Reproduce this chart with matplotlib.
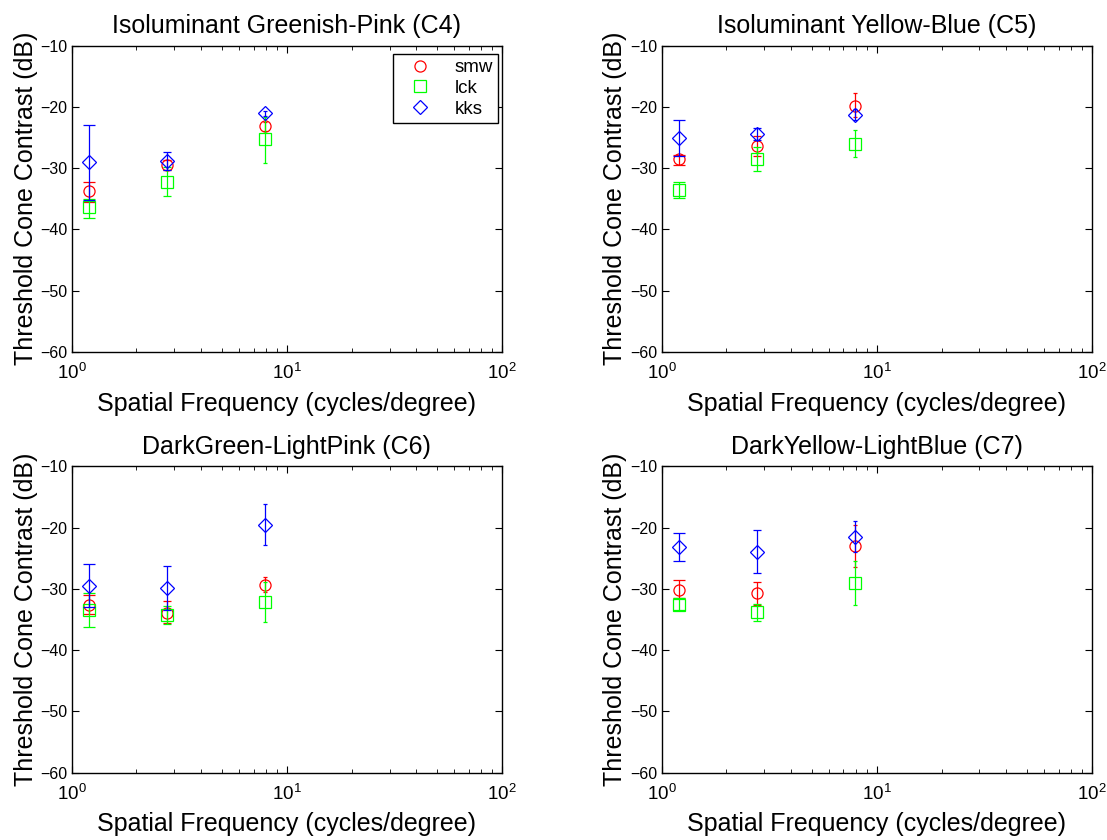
import numpy as np
import matplotlib
matplotlib.use("Agg")
import matplotlib.pyplot as plt

plt.rcParams['font.family'] = ['Liberation Sans', 'DejaVu Sans']
plt.rcParams['mathtext.default'] = 'regular'

freqs = [1.2, 2.78, 7.95]
subjects = ["smw", "lck", "kks"]
titles = ["Isoluminant Greenish-Pink (C4)", "Isoluminant Yellow-Blue (C5)",
          "DarkGreen-LightPink (C6)", "DarkYellow-LightBlue (C7)"]

# threshold (dB), upper and lower error bar ends, per panel per subject
c4_mean = {"smw": [-33.7, -29.5, -23.2], "lck": [-36.4, -32.3, -25.2], "kks": [-29.0, -28.9, -21.0]}
c4_top = {"smw": [-32.3, -28.7, -22.5], "lck": [-35.0, -29.8, -21.6], "kks": [-23.0, -27.3, -20.6]}
c4_bot = {"smw": [-35.5, -30.3, -23.9], "lck": [-38.2, -34.6, -29.1], "kks": [-35.2, -30.3, -21.5]}

c5_mean = {"smw": [-28.5, -26.4, -19.8], "lck": [-33.6, -28.5, -26.0], "kks": [-25.1, -24.4, -21.3]}
c5_top = {"smw": [-27.8, -24.8, -17.7], "lck": [-32.3, -26.6, -23.8], "kks": [-22.1, -23.5, -20.4]}
c5_bot = {"smw": [-29.5, -28.0, -21.6], "lck": [-34.9, -30.5, -28.2], "kks": [-28.0, -25.4, -22.1]}

c6_mean = {"smw": [-32.6, -33.9, -29.3], "lck": [-33.4, -34.3, -32.1], "kks": [-29.6, -29.9, -19.6]}
c6_top = {"smw": [-31.0, -32.0, -28.0], "lck": [-30.7, -32.8, -28.8], "kks": [-25.9, -26.3, -16.1]}
c6_bot = {"smw": [-34.1, -35.5, -30.5], "lck": [-36.2, -35.7, -35.4], "kks": [-32.9, -33.5, -22.8]}

c7_mean = {"smw": [-30.1, -30.7, -23.0], "lck": [-32.6, -33.8, -29.1], "kks": [-23.2, -24.0, -21.6]}
c7_top = {"smw": [-28.6, -28.8, -19.5], "lck": [-31.5, -32.4, -25.5], "kks": [-20.8, -20.4, -18.9]}
c7_bot = {"smw": [-31.5, -32.6, -26.4], "lck": [-33.4, -35.3, -32.7], "kks": [-25.4, -27.4, -24.0]}

panels = [(c4_mean, c4_top, c4_bot), (c5_mean, c5_top, c5_bot),
          (c6_mean, c6_top, c6_bot), (c7_mean, c7_top, c7_bot)]

styles = {"smw": dict(marker="o", color="#ff0000", ms=8),
          "lck": dict(marker="s", color="#00ff00", ms=8),
          "kks": dict(marker="D", color="#0000ff", ms=7)}
capsizes = [4.6, 2.9, 1.3]

fig = plt.figure(figsize=(11.07, 8.4), dpi=100)
positions = [[0.0648, 0.581, 0.3887, 0.3647], [0.5977, 0.581, 0.3887, 0.3647],
             [0.0648, 0.0801, 0.3887, 0.3647], [0.5977, 0.0801, 0.3887, 0.3647]]

for k, (mean, top, bot) in enumerate(panels):
    ax = fig.add_axes(positions[k])
    for s in subjects:
        st = styles[s]
        for i, f in enumerate(freqs):
            m = mean[s][i]
            ax.errorbar([f], [m], yerr=[[m - bot[s][i]], [top[s][i] - m]],
                        fmt="none", ecolor=st["color"], elinewidth=0.9,
                        capsize=capsizes[i], capthick=0.9)
        ax.plot(freqs, mean[s], linestyle="none", marker=st["marker"],
                markersize=st["ms"], markerfacecolor="none",
                markeredgecolor=st["color"], markeredgewidth=0.9, label=s)
    ax.set_xscale("log")
    ax.set_xlim(1, 100)
    ax.set_ylim(-60, -10)
    ax.set_yticks(np.arange(-60, -9, 10))
    ax.tick_params(which="both", direction="in", top=True, right=True)
    ax.tick_params(axis="y", labelsize=11.5, pad=3)
    ax.tick_params(axis="x", labelsize=13.5, pad=8)
    ax.tick_params(which="major", length=5)
    ax.tick_params(which="minor", length=3)
    for sp in ax.spines.values():
        sp.set_linewidth(1.0)
    ax.set_title(titles[k], fontsize=18, pad=9)
    ax.set_xlabel("Spatial Frequency (cycles/degree)", fontsize=18, labelpad=6)
    ax.set_ylabel("Threshold Cone Contrast (dB)", fontsize=18, labelpad=2)
    if k == 0:
        leg = ax.legend(loc="upper right", bbox_to_anchor=(0.991, 0.973),
                        fontsize=13.5, fancybox=False, edgecolor="black",
                        framealpha=1, borderaxespad=0, handletextpad=0.7,
                        handlelength=2.3, labelspacing=0.19, borderpad=0.28)
        leg.get_frame().set_linewidth(1.0)

fig.savefig("out.png", dpi=100)
